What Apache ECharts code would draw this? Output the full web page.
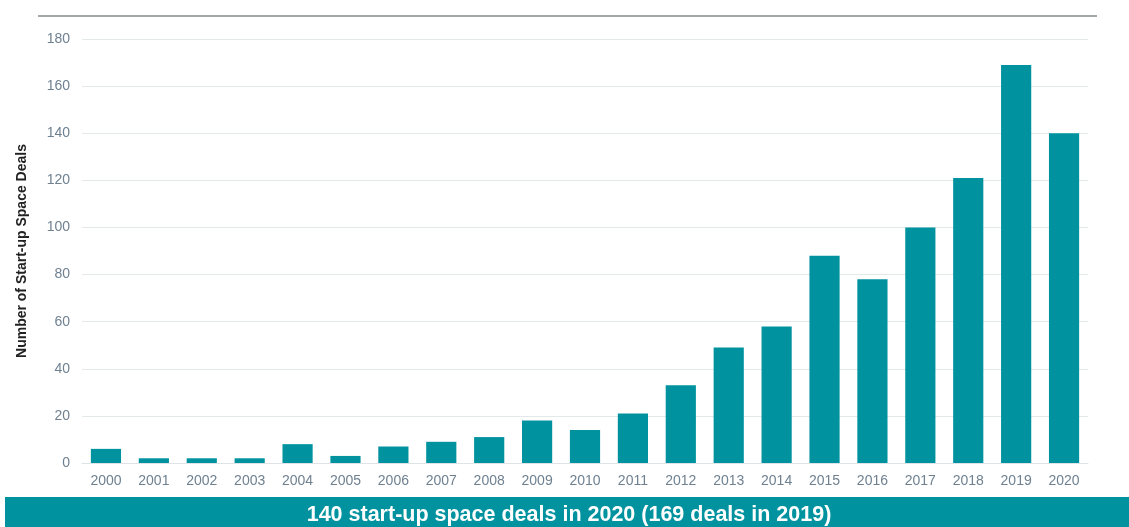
<!DOCTYPE html>
<html>
<head>
<meta charset="utf-8">
<script src="https://cdn.jsdelivr.net/npm/echarts@6/dist/echarts.min.js"></script>
<style>
  html, body { margin: 0; padding: 0; background: #ffffff; }
  #chart { width: 1129px; height: 527px; }
</style>
</head>
<body>
<div id="chart"></div>
<script>
// Start-up space deals per year
const years = ['2000','2001','2002','2003','2004','2005','2006','2007','2008','2009','2010',
               '2011','2012','2013','2014','2015','2016','2017','2018','2019','2020'];
const deals = [6, 2, 2, 2, 8, 3, 7, 9, 11, 18, 14, 21, 33, 49, 58, 88, 78, 100, 121, 169, 140];
const yTicks = { min: 0, max: 180, interval: 20 };
const yAxisTitle = 'Number of Start-up Space Deals';
const bannerText = '140 start-up space deals in 2020 (169 deals in 2019)';

const teal = '#00939f';
const fontFamily = '"Liberation Sans", Arial, sans-serif';
const chart = echarts.init(document.getElementById('chart'), null, { renderer: 'canvas' });

chart.setOption({
  animation: false,
  backgroundColor: '#ffffff',
  grid: { left: 82, right: 41, top: 39, bottom: 64 },
  xAxis: {
    type: 'category',
    data: years,
    axisLine: { show: true, lineStyle: { color: '#dde3e6', width: 1 } },
    axisTick: { show: false },
    axisLabel: { color: '#6f8191', fontSize: 14, fontFamily: fontFamily, margin: 11 }
  },
  yAxis: {
    type: 'value',
    min: yTicks.min, max: yTicks.max, interval: yTicks.interval,
    name: yAxisTitle,
    nameLocation: 'middle',
    nameGap: 53,
    nameTextStyle: { color: '#222222', fontSize: 14, fontWeight: 'bold', fontFamily: fontFamily },
    axisLine: { show: false },
    axisTick: { show: false },
    axisLabel: { color: '#6f8191', fontSize: 14, fontFamily: fontFamily, margin: 12 },
    splitLine: { lineStyle: { color: '#e3e8ea', width: 1 } }
  },
  series: [{
    type: 'bar',
    data: deals,
    barCategoryGap: '37%',
    itemStyle: { color: teal }
  }],
  graphic: [
    // rule across the top
    { type: 'rect', shape: { x: 38, y: 15, width: 1059, height: 2 }, style: { fill: '#a3a8ab' } },
    // summary banner
    { type: 'rect', shape: { x: 5, y: 497, width: 1124, height: 30 }, style: { fill: teal } },
    {
      type: 'text', x: 569, y: 515,
      style: {
        text: bannerText, fill: '#ffffff',
        font: 'bold 21.5px ' + fontFamily,
        textAlign: 'center', textVerticalAlign: 'middle'
      }
    }
  ]
});
</script>
</body>
</html>
